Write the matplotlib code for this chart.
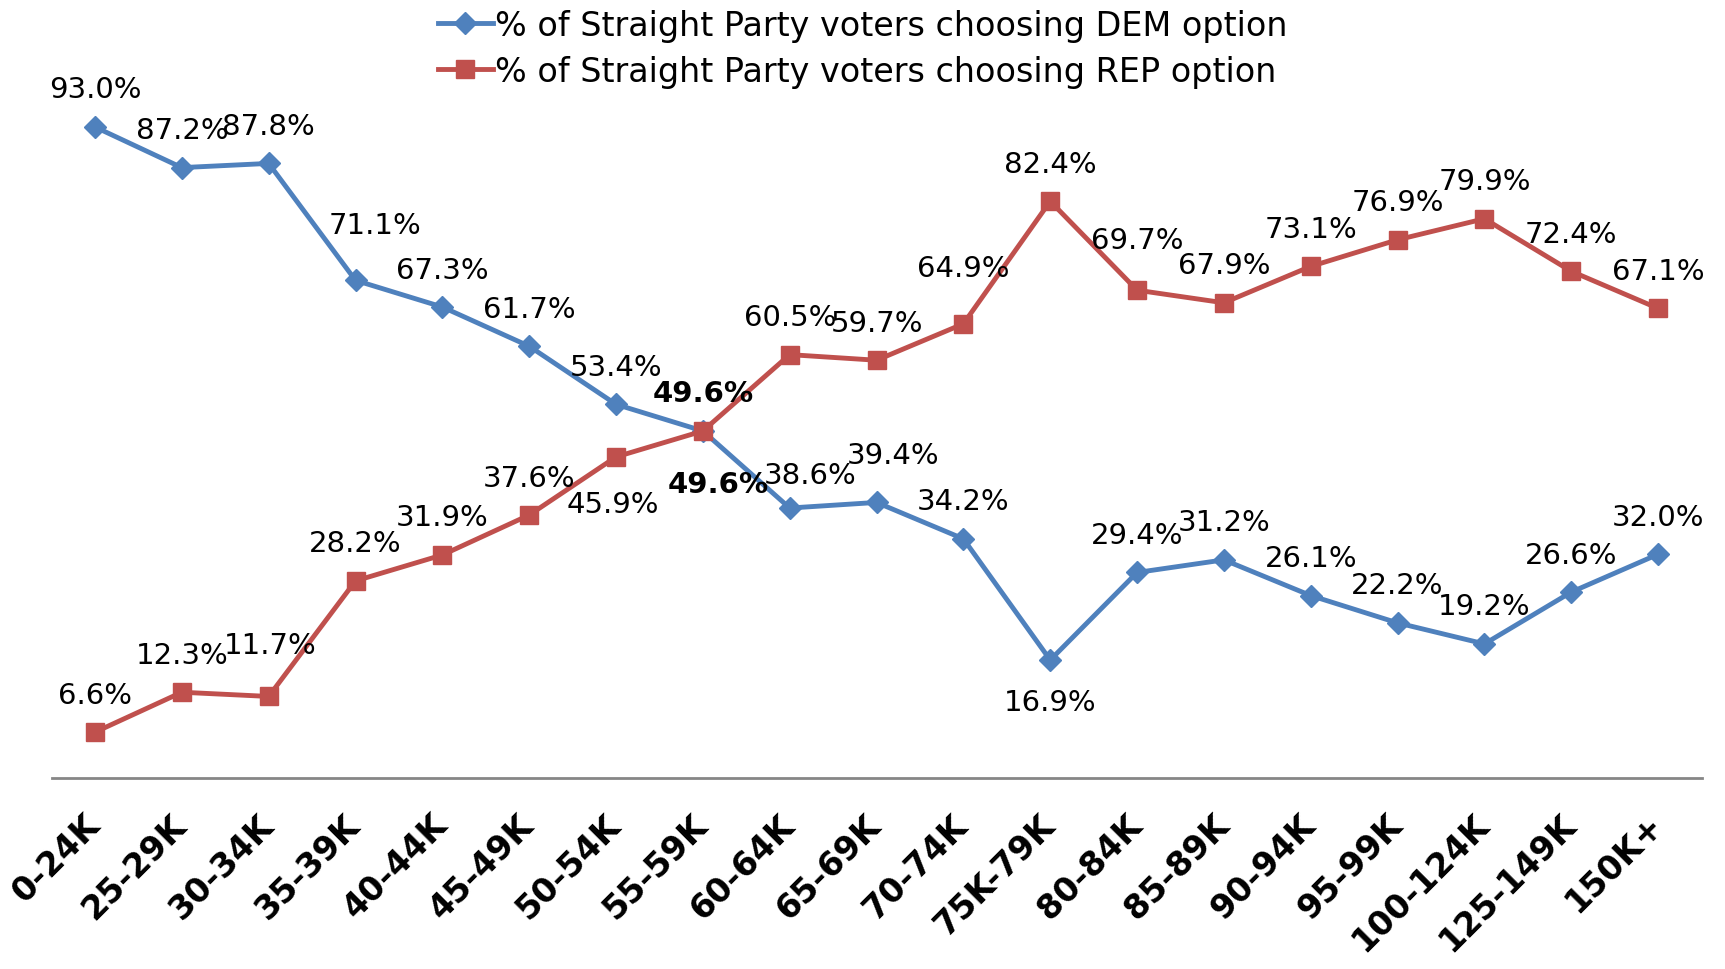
import matplotlib
matplotlib.use('Agg')
import matplotlib.pyplot as plt
from matplotlib.transforms import ScaledTranslation

kategorie = ['0-24K', '25-29K', '30-34K', '35-39K', '40-44K', '45-49K', '50-54K',
             '55-59K', '60-64K', '65-69K', '70-74K', '75K-79K', '80-84K', '85-89K',
             '90-94K', '95-99K', '100-124K', '125-149K', '150K+']
dem = [93.0, 87.2, 87.8, 71.1, 67.3, 61.7, 53.4, 49.6, 38.6, 39.4, 34.2, 16.9,
       29.4, 31.2, 26.1, 22.2, 19.2, 26.6, 32.0]
rep = [6.6, 12.3, 11.7, 28.2, 31.9, 37.6, 45.9, 49.6, 60.5, 59.7, 64.9, 82.4,
       69.7, 67.9, 73.1, 76.9, 79.9, 72.4, 67.1]

kolor_dem = '#4F81BD'
kolor_rep = '#C0504D'

# przesuniecia etykiet (punkty), domyslnie nad punktem
domyslne = (0, 27)
off_dem = {3: (14, 40), 8: (15, 24), 9: (12, 34), 11: (0, -30)}
off_rep = {2: (1, 37), 6: (-2, -34), 7: (11, -38), 10: (0, 40), 12: (0, 36)}

plt.rcParams['font.family'] = ['DejaVu Sans']

fig = plt.figure(figsize=(17.25, 9.7), dpi=100)
ax = fig.add_axes([0.0299, 0.1965, 0.9565, 0.7221])

x = list(range(len(kategorie)))
ax.plot(x, dem, color=kolor_dem, lw=3.5, marker='D', ms=11, mec=kolor_dem,
        label='% of Straight Party voters choosing DEM option', clip_on=False)
ax.plot(x, rep, color=kolor_rep, lw=3.5, marker='s', ms=13, mec=kolor_rep,
        label='% of Straight Party voters choosing REP option', clip_on=False)

for seria, offs in ((dem, off_dem), (rep, off_rep)):
    for i, v in enumerate(seria):
        dx, dy = offs.get(i, domyslne)
        if i == 7:
            ax.annotate(f'{v:.1f}%', (i, v), xytext=(dx, dy), textcoords='offset points',
                        ha='center', va='center', fontsize=21, fontweight='bold')
        else:
            ax.annotate(f'{v:.1f}%', (i, v), xytext=(dx, dy), textcoords='offset points',
                        ha='center', va='center', fontsize=21)

ax.set_xlim(-0.5, len(kategorie) - 0.5)
ax.set_ylim(0, 100)
for s in ['top', 'left', 'right']:
    ax.spines[s].set_visible(False)
ax.spines['bottom'].set_color('#868686')
ax.spines['bottom'].set_linewidth(2)
ax.set_yticks([])
ax.set_xticks(x)
ax.set_xticklabels(kategorie, rotation=45, ha='right', va='top', rotation_mode='anchor',
                   fontsize=24, fontweight='bold')
ax.tick_params(axis='x', length=0, pad=21)
for lbl in ax.get_xticklabels():
    lbl.set_transform(lbl.get_transform() + ScaledTranslation(-0.12, 0, fig.dpi_scale_trans))

fig.legend(loc='upper center', bbox_to_anchor=(0.5, 1.009), frameon=False, fontsize=24,
           handlelength=1.65, handletextpad=0.05, labelspacing=0.4, borderpad=0.05)

plt.savefig('out.png')
